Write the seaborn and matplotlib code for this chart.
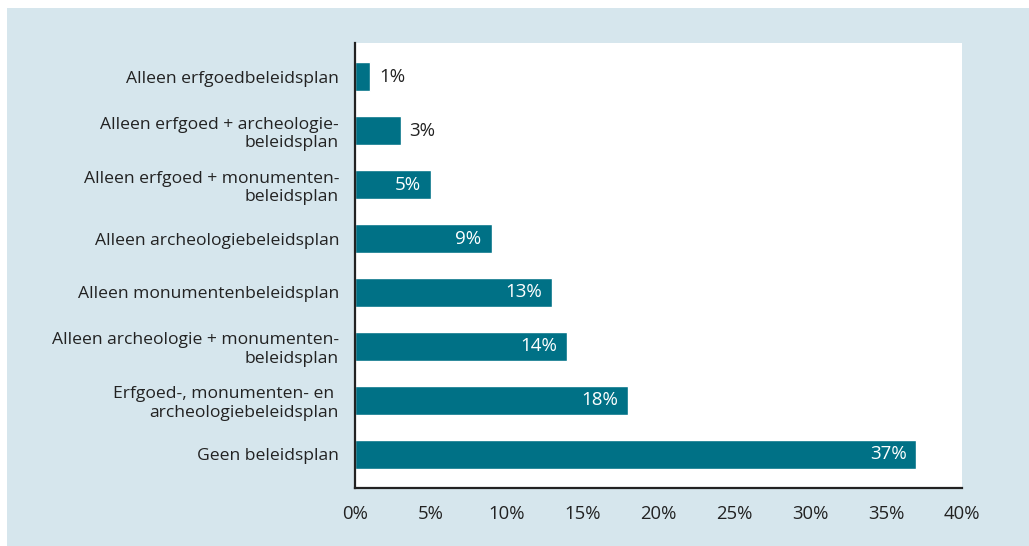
import matplotlib
matplotlib.use("Agg")
import matplotlib.pyplot as plt
from matplotlib.patches import Rectangle
from matplotlib.ticker import FixedLocator, FuncFormatter
import seaborn as sns
import pandas as pd

categories = [
    "Alleen erfgoedbeleidsplan",
    "Alleen erfgoed + archeologie-\nbeleidsplan",
    "Alleen erfgoed + monumenten-\nbeleidsplan",
    "Alleen archeologiebeleidsplan",
    "Alleen monumentenbeleidsplan",
    "Alleen archeologie + monumenten-\nbeleidsplan",
    "Erfgoed-, monumenten- en \narcheologiebeleidsplan",
    "Geen beleidsplan",
]
percentages = [1, 3, 5, 9, 13, 14, 18, 37]
x_ticks = [0, 5, 10, 15, 20, 25, 30, 35, 40]

BAR = "#007186"
PANEL = "#d6e6ed"
INK = "#222222"

sns.set_style("white")
plt.rcParams["font.family"] = ["Open Sans", "DejaVu Sans"]
plt.rcParams["font.size"] = 12.6

df = pd.DataFrame({"categorie": categories, "percentage": percentages})

fig = plt.figure(figsize=(10.29, 5.46), dpi=100, facecolor="white")
fig.patches.append(Rectangle((7 / 1029, 0), 1, 1 - 8 / 546,
                             transform=fig.transFigure, facecolor=PANEL,
                             edgecolor="none", zorder=-10))
ax = fig.add_axes([355 / 1029, 1 - 488 / 546, (962 - 355) / 1029, (488 - 43) / 546])
ax.set_facecolor("white")

sns.barplot(data=df, x="percentage", y="categorie", color=BAR,
            saturation=1, width=0.54, ax=ax)

pad = 7 / 53.9
ax.set_ylim(len(categories) - 0.5 + pad, -0.5 - pad)
ax.set_xlim(0, 40)

# value labels: white inside long bars, dark beside short ones
for i, v in enumerate(percentages):
    if v >= 5:
        ax.annotate(f"{v}%", (v, i), xytext=(-10, 0), textcoords="offset pixels",
                    ha="right", va="center", color="white", fontsize=13.5)
    else:
        ax.annotate(f"{v}%", (v, i), xytext=(9, 0), textcoords="offset pixels",
                    ha="left", va="center", color=INK, fontsize=13.5)

ax.set_xlabel("")
ax.set_ylabel("")
ax.xaxis.set_major_locator(FixedLocator(x_ticks))
ax.xaxis.set_major_formatter(FuncFormatter(lambda v, p: f"{v:.0f}%"))

ax.yaxis.set_major_locator(FixedLocator(range(len(categories))))
ax.set_yticklabels(categories)
ax.yaxis.set_minor_locator(FixedLocator([-0.5 - pad] + [k + 0.5 for k in range(len(categories) - 1)]))

for s in ["top", "right"]:
    ax.spines[s].set_visible(False)
for s in ["left", "bottom"]:
    ax.spines[s].set_color(INK)
    ax.spines[s].set_linewidth(1.6)

ax.tick_params(axis="y", which="major", length=0, pad=11.5, labelsize=12.6, colors=INK)
ax.tick_params(axis="y", which="minor", length=5.5, width=1.5, direction="in", color=INK)
ax.tick_params(axis="x", which="major", length=5.5, width=1.5, direction="out",
               pad=7, labelsize=13.3, colors=INK)
for lab in ax.get_yticklabels():
    lab.set_multialignment("right")
    lab.set_linespacing(1.2)

fig.savefig("out.png", dpi=100, facecolor="white")
